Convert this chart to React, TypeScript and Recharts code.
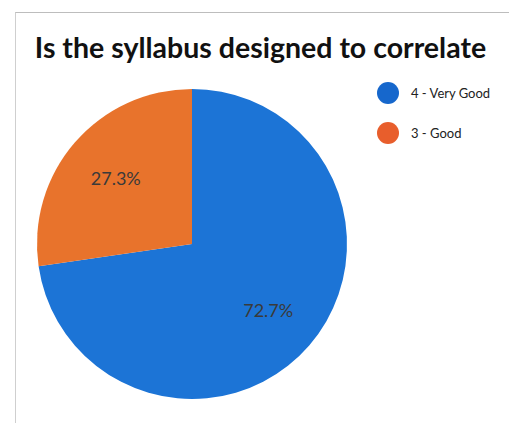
import { PieChart, Pie, Cell, Legend } from "recharts"

const ratings = ["4 - Very Good", "3 - Good"]
const shares = [72.7, 27.3]
const sliceColors = ["#1c74d6", "#e8732c"]
const dotColors = ["#1667cc", "#e85e2c"]

const data = ratings.map((name, i) => ({ name, value: shares[i] }))

const RADIAN = Math.PI / 180

function renderLabel(props: any) {
  const { cx, cy, midAngle, outerRadius, value } = props
  const r = outerRadius * 0.65
  const x = cx + r * Math.cos(-midAngle * RADIAN)
  const y = cy + r * Math.sin(-midAngle * RADIAN)
  return (
    <text
      x={x}
      y={y}
      textAnchor="middle"
      dominantBaseline="central"
      fill="#3a3a3a"
      fontSize={18}
      fontFamily="Lato, sans-serif"
    >
      {value.toFixed(1)}%
    </text>
  )
}

// legend drawn from the named arrays so the order stays as in the original
function renderLegend() {
  return (
    <div>
      {ratings.map((name, i) => (
        <div key={name} style={{ display: "flex", alignItems: "center", height: 40 }}>
          <span
            style={{
              width: 22,
              height: 22,
              borderRadius: "50%",
              background: dotColors[i],
              display: "inline-block",
              marginRight: 12,
            }}
          />
          <span style={{ fontSize: 13, color: "#222", fontFamily: "Lato, sans-serif" }}>
            {name}
          </span>
        </div>
      ))}
    </div>
  )
}

export default function App() {
  return (
    <div
      style={{
        position: "absolute",
        top: 0,
        left: 0,
        width: 509,
        height: 423,
        background: "#fff",
        overflow: "hidden",
      }}
    >
      <div
        style={{
          position: "absolute",
          left: 15,
          top: 12,
          width: 500,
          height: 420,
          borderTop: "1px solid #bdbdbd",
          borderLeft: "1px solid #cfcfcf",
        }}
      />
      <div
        style={{
          position: "absolute",
          left: 0,
          top: 29,
          width: 521,
          textAlign: "center",
          fontFamily: "Lato, sans-serif",
          fontWeight: 700,
          fontSize: 28.5,
          color: "#111",
          lineHeight: "36px",
        }}
      >
        Is the syllabus designed to correlate
      </div>
      <div style={{ position: "absolute", top: 0, left: 0 }}>
        <PieChart width={509} height={423}>
          <Pie
            data={data}
            dataKey="value"
            nameKey="name"
            cx={187}
            cy={239}
            outerRadius={155}
            startAngle={90}
            endAngle={-270}
            stroke="none"
            label={renderLabel}
            labelLine={false}
            isAnimationActive={false}
          >
            {data.map((d, i) => (
              <Cell key={d.name} fill={sliceColors[i]} />
            ))}
          </Pie>
          <Legend
            layout="vertical"
            verticalAlign="top"
            align="right"
            content={renderLegend}
            wrapperStyle={{ left: 377, top: 73, width: 130 }}
          />
        </PieChart>
      </div>
    </div>
  )
}
